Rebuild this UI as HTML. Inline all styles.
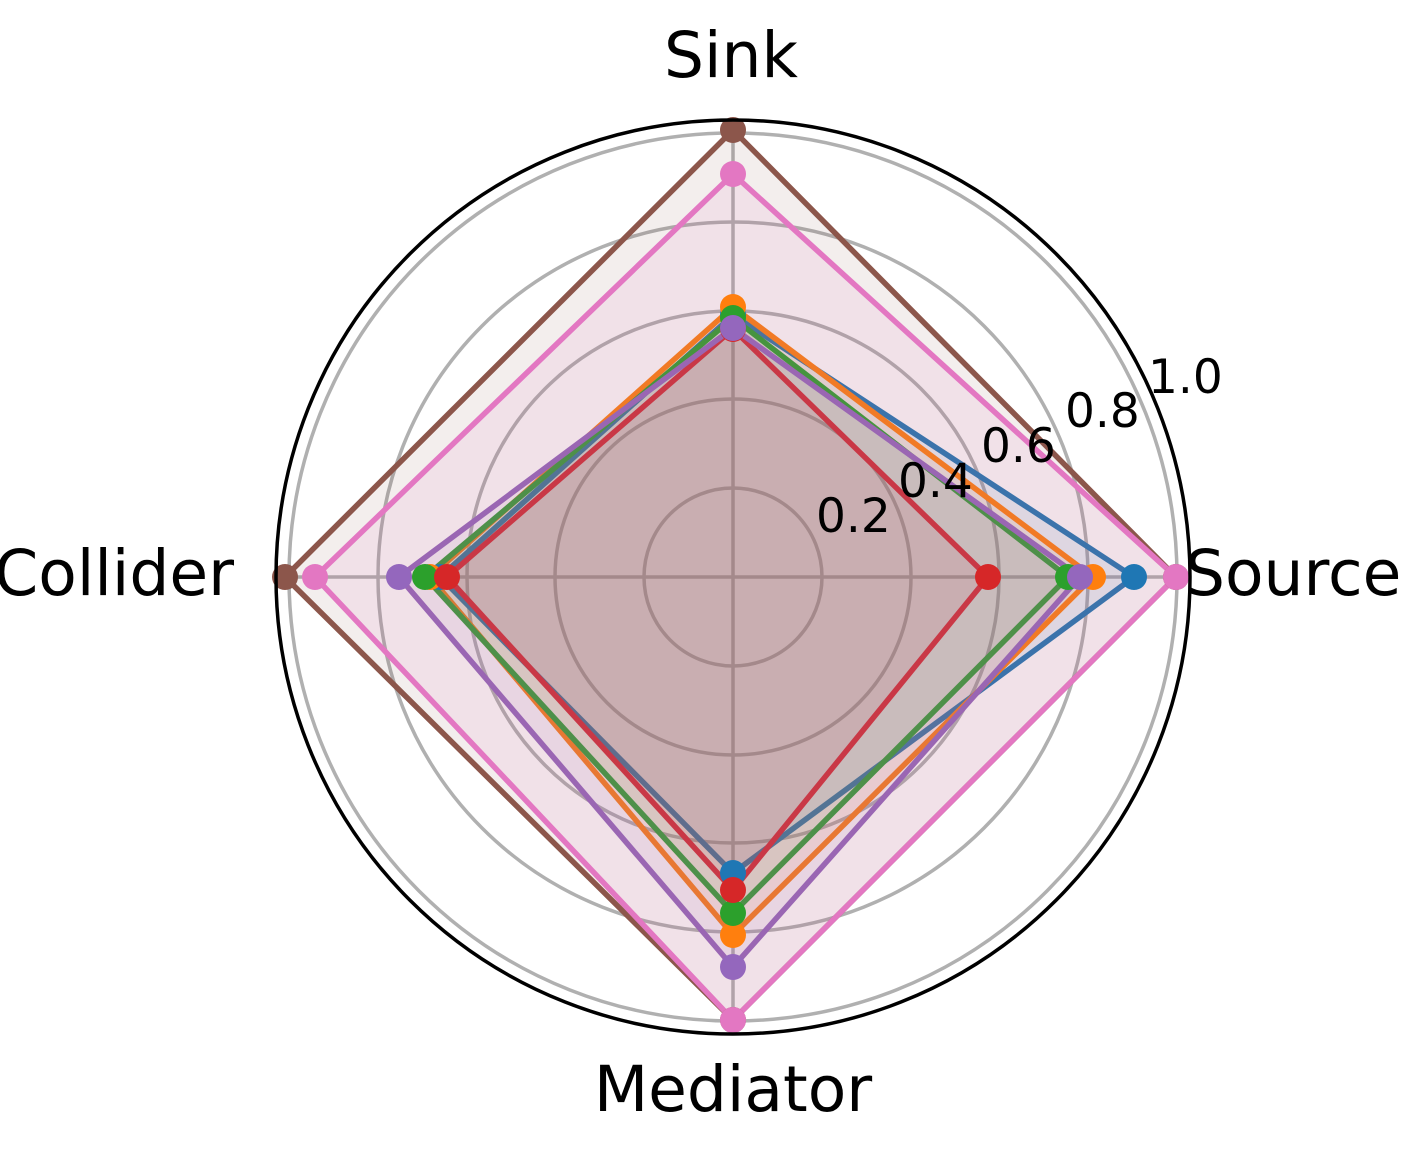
<!DOCTYPE html>
<html><head><style>body{margin:0;background:#fff}svg{display:block}</style></head><body>
<svg width="1425" height="1154" viewBox="0 0 1425 1154" xmlns="http://www.w3.org/2000/svg" font-family="'DejaVu Sans','Liberation Sans',sans-serif">
<rect width="1425" height="1154" fill="#fff"/>
<g transform="translate(733,577)">
<g fill="none" stroke="#b0b0b0" stroke-width="3.5">
<circle r="89"/><circle r="178"/><circle r="266"/><circle r="355"/><circle r="444"/>
<line x1="0" y1="0" x2="455" y2="0"/><line x1="0" y1="0" x2="-455" y2="0"/><line x1="0" y1="0" x2="0" y2="455"/><line x1="0" y1="0" x2="0" y2="-455"/>
</g>
<g stroke-width="5.5" stroke-linejoin="round">
<polygon points="401,0 0,-262 -293,0 0,296" fill="#1f77b4" fill-opacity="0.1" stroke="#1f77b4"/>
<polygon points="360,0 0,-270 -303,0 0,358" fill="#ff7f0e" fill-opacity="0.1" stroke="#ff7f0e"/>
<polygon points="335,0 0,-259 -308,0 0,336" fill="#2ca02c" fill-opacity="0.1" stroke="#2ca02c"/>
<polygon points="255,0 0,-248 -286,0 0,313" fill="#d62728" fill-opacity="0.1" stroke="#d62728"/>
<polygon points="347,0 0,-249 -334,0 0,390" fill="#9467bd" fill-opacity="0.1" stroke="#9467bd"/>
<polygon points="443,0 0,-447 -448,0 0,443" fill="#8c564b" fill-opacity="0.1" stroke="#8c564b"/>
<polygon points="443,0 0,-403 -418,0 0,443" fill="#e377c2" fill-opacity="0.1" stroke="#e377c2"/>
</g>
<g>
<g fill="#1f77b4"><circle cx="401" cy="0" r="13"/><circle cx="0" cy="-262" r="13"/><circle cx="-293" cy="0" r="13"/><circle cx="0" cy="296" r="13"/></g>
<g fill="#ff7f0e"><circle cx="360" cy="0" r="13"/><circle cx="0" cy="-270" r="13"/><circle cx="-303" cy="0" r="13"/><circle cx="0" cy="358" r="13"/></g>
<g fill="#2ca02c"><circle cx="335" cy="0" r="13"/><circle cx="0" cy="-259" r="13"/><circle cx="-308" cy="0" r="13"/><circle cx="0" cy="336" r="13"/></g>
<g fill="#d62728"><circle cx="255" cy="0" r="13"/><circle cx="0" cy="-248" r="13"/><circle cx="-286" cy="0" r="13"/><circle cx="0" cy="313" r="13"/></g>
<g fill="#9467bd"><circle cx="347" cy="0" r="13"/><circle cx="0" cy="-249" r="13"/><circle cx="-334" cy="0" r="13"/><circle cx="0" cy="390" r="13"/></g>
<g fill="#8c564b"><circle cx="443" cy="0" r="13"/><circle cx="0" cy="-447" r="13"/><circle cx="-448" cy="0" r="13"/><circle cx="0" cy="443" r="13"/></g>
<g fill="#e377c2"><circle cx="443" cy="0" r="13"/><circle cx="0" cy="-403" r="13"/><circle cx="-418" cy="0" r="13"/><circle cx="0" cy="443" r="13"/></g>
</g>
<circle r="457" fill="none" stroke="#000" stroke-width="3.5"/>
</g>
<g font-size="47" fill="#000">
<text x="816" y="532">0.2</text>
<text x="898" y="497">0.4</text>
<text x="981" y="462">0.6</text>
<text x="1065" y="427">0.8</text>
<text x="1148" y="393">1.0</text>
</g>
<g font-size="63" fill="#000">
<text x="731" y="77" text-anchor="middle">Sink</text>
<text x="1185" y="595">Source</text>
<text x="234" y="595" text-anchor="end">Collider</text>
<text x="733" y="1111" text-anchor="middle">Mediator</text>
</g>
</svg>
</body></html>
